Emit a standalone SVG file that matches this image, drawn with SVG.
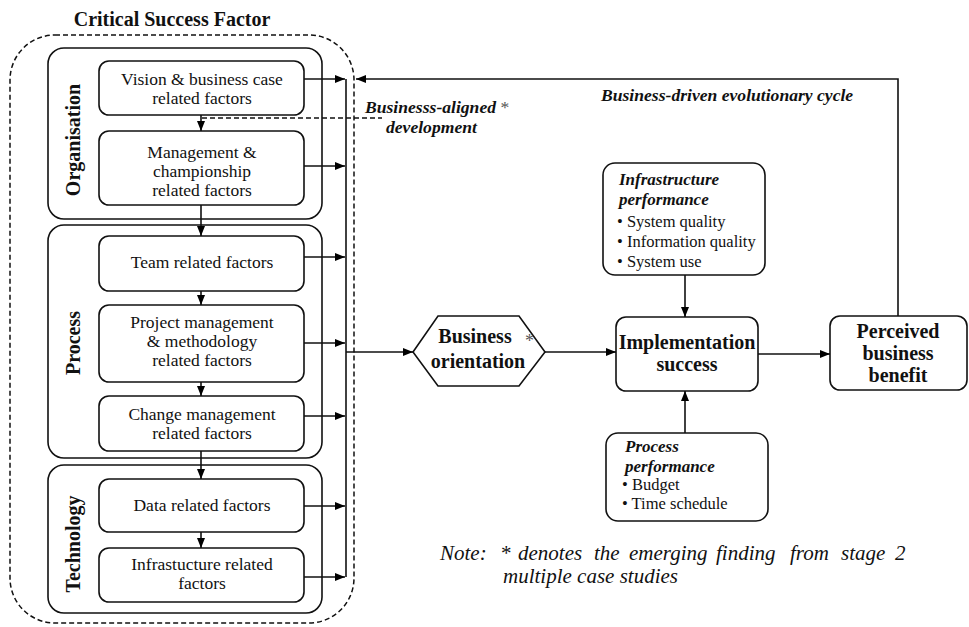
<svg xmlns="http://www.w3.org/2000/svg" width="969" height="627" viewBox="0 0 969 627">
<defs>
<marker id="ah" markerWidth="10" markerHeight="8" refX="10" refY="4" orient="auto" markerUnits="userSpaceOnUse"><path d="M0,0 L10,4 L0,8 z" fill="#000"/></marker>
<style>
text{font-family:"Liberation Serif","Times New Roman",serif;fill:#111}
.box{fill:#fff;stroke:#111;stroke-width:1.6}
.grp{fill:none;stroke:#111;stroke-width:1.6}
.t{font-size:17.5px;text-anchor:middle}
.lbl{font-size:20px;font-weight:bold;text-anchor:middle}
.big{font-size:20px;font-weight:bold;text-anchor:middle}
.bi{font-weight:bold;font-style:italic;font-size:17px}
.bl{font-weight:bold;font-style:italic;font-size:17.6px}
.it{font-size:16.5px}
.note{font-size:21px;font-style:italic}
.ast{font-weight:normal;font-style:normal;fill:#555}
.c{fill:none;stroke:#111;stroke-width:1.6}
.ca{fill:none;stroke:#111;stroke-width:1.6;marker-end:url(#ah)}
</style>
</defs>
<rect width="969" height="627" fill="#fff"/>

<g id="csf">
<rect x="10" y="35" width="344" height="588" rx="45" ry="45" fill="none" stroke="#111" stroke-width="1.5" stroke-dasharray="5,3"/>
<text x="172" y="26" style="font-size:20px;font-weight:bold;text-anchor:middle">Critical Success Factor</text>
</g>

<g id="organisation">
<rect class="grp" x="48" y="48" width="274" height="171" rx="16"/>
<text class="lbl" transform="translate(80,140) rotate(-90)">Organisation</text>
</g>
<g id="process">
<rect class="grp" x="48" y="225" width="274" height="233" rx="16"/>
<text class="lbl" transform="translate(80,343) rotate(-90)">Process</text>
</g>
<g id="technology">
<rect class="grp" x="48" y="465" width="274" height="148" rx="16"/>
<text class="lbl" transform="translate(80,544) rotate(-90)">Technology</text>
</g>

<g id="vision">
<rect class="box" x="99" y="61" width="205" height="54" rx="10"/>
<text class="t" x="202" y="85">Vision &amp; business case</text>
<text class="t" x="202" y="104">related factors</text>
</g>
<g id="management">
<rect class="box" x="99" y="131" width="205" height="74" rx="10"/>
<text class="t" x="202" y="158">Management &amp;</text>
<text class="t" x="202" y="177">championship</text>
<text class="t" x="202" y="196">related factors</text>
</g>
<g id="team">
<rect class="box" x="99" y="236" width="205" height="55" rx="10"/>
<text class="t" x="202" y="268">Team related factors</text>
</g>
<g id="project">
<rect class="box" x="99" y="305" width="205" height="77" rx="10"/>
<text class="t" x="202" y="328">Project management</text>
<text class="t" x="202" y="347">&amp; methodology</text>
<text class="t" x="202" y="366">related factors</text>
</g>
<g id="change">
<rect class="box" x="99" y="396" width="205" height="55" rx="10"/>
<text class="t" x="202" y="420">Change management</text>
<text class="t" x="202" y="439">related factors</text>
</g>
<g id="data">
<rect class="box" x="99" y="479" width="205" height="53" rx="10"/>
<text class="t" x="202" y="511">Data related factors</text>
</g>
<g id="infra">
<rect class="box" x="99" y="548" width="205" height="54" rx="10"/>
<text class="t" x="202" y="570">Infrastucture related</text>
<text class="t" x="202" y="589">factors</text>
</g>

<g id="business-orientation">
<polygon class="box" points="413,352 438,316 519,316 545,352 519,386 438,386"/>
<text class="big" x="475" y="343">Business</text>
<text class="big" x="478" y="368">orientation</text>
<text x="525" y="347" style="font-size:18px;fill:#555">*</text>
</g>
<g id="implementation">
<rect class="box" x="616" y="317" width="142" height="74" rx="10"/>
<text class="big" x="687" y="349">Implementation</text>
<text class="big" x="687" y="371">success</text>
</g>
<g id="perceived">
<rect class="box" x="830" y="316" width="137" height="74" rx="10"/>
<text class="big" x="898" y="338">Perceived</text>
<text class="big" x="898" y="360">business</text>
<text class="big" x="898" y="382">benefit</text>
</g>
<g id="infra-performance">
<rect class="box" x="603" y="163" width="162" height="112" rx="12"/>
<text class="bi" x="619" y="185">Infrastructure</text>
<text class="bi" x="619" y="205">performance</text>
<text class="it" x="617" y="227">• System quality</text>
<text class="it" x="617" y="247">• Information quality</text>
<text class="it" x="617" y="267">• System use</text>
</g>
<g id="process-performance">
<rect class="box" x="606" y="433" width="162" height="88" rx="12"/>
<text class="bi" x="625" y="452">Process</text>
<text class="bi" x="625" y="472">performance</text>
<text class="it" x="622" y="490">• Budget</text>
<text class="it" x="622" y="509">• Time schedule</text>
</g>

<g id="labels">
<text class="bl" x="365" y="113">Businesss-aligned <tspan class="ast">*</tspan></text>
<text class="bl" x="386" y="133">development</text>
<text class="bl" x="601" y="101">Business-driven evolutionary cycle</text>
<text class="note" y="560"><tspan x="440">Note:</tspan><tspan x="500">*</tspan><tspan x="518">denotes</tspan><tspan x="594">the</tspan><tspan x="629">emerging</tspan><tspan x="716">finding</tspan><tspan x="790">from</tspan><tspan x="841">stage</tspan><tspan x="895">2</tspan></text>
<text class="note" x="503" y="583">multiple case studies</text>
</g>

<g id="connectors">
<line class="ca" x1="201" y1="115" x2="201" y2="131"/>
<line class="ca" x1="201" y1="205" x2="201" y2="236"/>
<line class="ca" x1="201" y1="291" x2="201" y2="305"/>
<line class="ca" x1="201" y1="382" x2="201" y2="396"/>
<line class="ca" x1="201" y1="451" x2="201" y2="479"/>
<line class="ca" x1="201" y1="532" x2="201" y2="548"/>
<line class="ca" x1="304" y1="79" x2="345" y2="79"/>
<line class="ca" x1="304" y1="166" x2="345" y2="166"/>
<line class="ca" x1="304" y1="257" x2="345" y2="257"/>
<line class="ca" x1="304" y1="343" x2="345" y2="343"/>
<line class="ca" x1="304" y1="416" x2="345" y2="416"/>
<line class="ca" x1="304" y1="506" x2="345" y2="506"/>
<line class="ca" x1="304" y1="577" x2="345" y2="577"/>
<line class="c" x1="346" y1="79" x2="346" y2="577"/>
<line class="ca" x1="346" y1="352" x2="413" y2="352"/>
<line x1="202" y1="118" x2="382" y2="118" stroke="#111" stroke-width="1.3" stroke-dasharray="5,3"/>
<line class="ca" x1="545" y1="352" x2="616" y2="352"/>
<line class="ca" x1="758" y1="354" x2="830" y2="354"/>
<line class="ca" x1="685" y1="275" x2="685" y2="317"/>
<line class="ca" x1="685" y1="433" x2="685" y2="391"/>
<polyline class="ca" points="898,316 898,79 356,79"/>
</g>
</svg>
